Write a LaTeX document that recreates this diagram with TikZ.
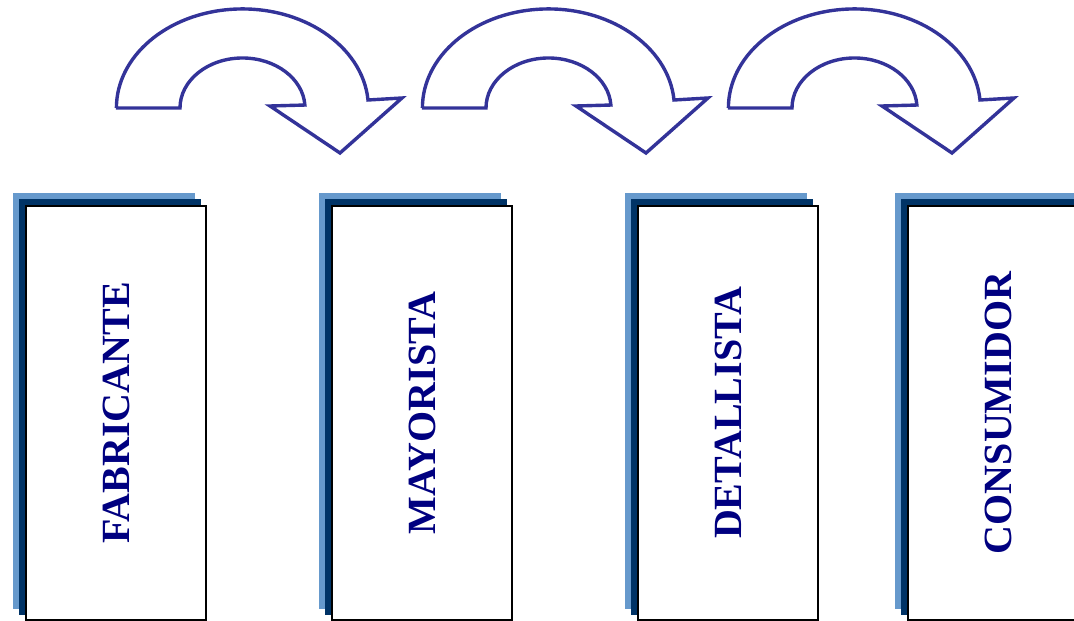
\documentclass[tikz,border=0pt]{standalone}
\usepackage{fontspec}
\setmainfont{Liberation Serif}
\usepackage{tikz}
\usetikzlibrary{backgrounds}

\definecolor{txtnavy}{RGB}{0,0,128}
\definecolor{shlight}{RGB}{102,153,204}
\definecolor{shdark}{RGB}{0,51,102}
\definecolor{arrblue}{RGB}{51,51,153}

\begin{document}
\begin{tikzpicture}[
          x=1pt,
          y=1pt,
          card/.style={draw=black, line width=2pt, fill=white, minimum width=180pt,
            minimum height=414pt, inner sep=0pt, text=txtnavy,
            font=\fontsize{40}{40}\selectfont\bfseries},
          arr/.style={draw=arrblue, line width=3.4pt, fill=white, line join=miter},
        ]
      \useasboundingbox (0,0) rectangle (1074,621);
      \clip (0,0) rectangle (1074,621);
      % boxes
      \node[card] (fab) at (116,208) {\rotatebox{90}{FABRICANTE}};
      \node[card] (may) at (422,208) {\rotatebox{90}{MAYORISTA}};
      \node[card] (det) at (728,208) {\rotatebox{90}{DETALLISTA}};
      \node[card] (con) at (998,208) {\rotatebox{90}{CONSUMIDOR}};
      \begin{scope}[on background layer]
        \foreach \n in {fab, may, det, con} {
          \fill[shlight] ([shift={(-12,12)}]\n.south west) rectangle ([shift={(-12,12)}]\n.north east);
          \fill[shdark] ([shift={(-6,6)}]\n.south west) rectangle ([shift={(-6,6)}]\n.north east);
        }
      \end{scope}
      % curved arrows
      \foreach \dx in {0, 306, 612} {
        \draw[arr, shift={(\dx,0)}] (116,513) -- (180,513)
          arc[start angle=180, end angle=3.4, x radius=62.5, y radius=50]
          -- (270,515) -- (340,468) -- (402,523) -- (368,521)
          arc[start angle=4.6, end angle=180, x radius=126, y radius=99] -- cycle;
      }
    \end{tikzpicture}
\end{document}
